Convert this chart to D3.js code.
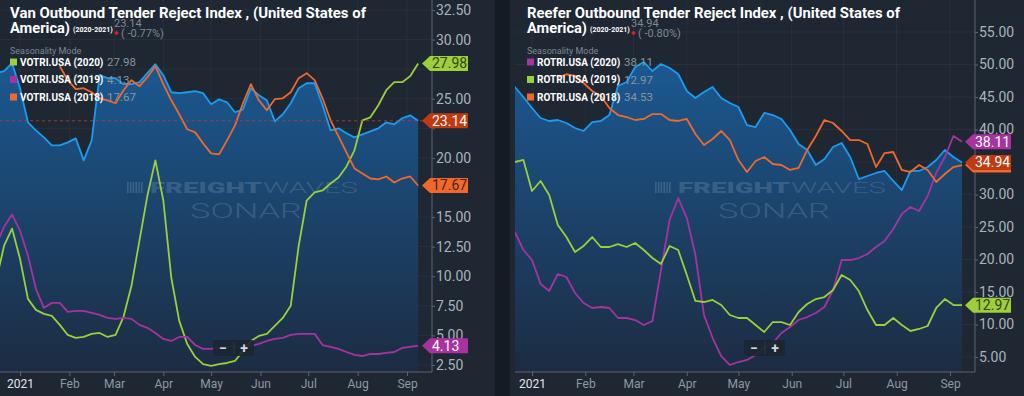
<!DOCTYPE html>
<html>
<head>
<meta charset="utf-8">
<script src="https://cdn.jsdelivr.net/npm/d3@7"></script>
<style>
html, body { margin: 0; padding: 0; background: #1e2732; }
svg { display: block; font-family: Roboto, "Noto Sans", sans-serif; }
</style>
</head>
<body>
<svg id="gfx" width="1024" height="396"></svg>
<script>
// Shared date grid: one reading every 5 days from Dec 17 2020
const startDay = "2020-12-17";
const stepDays = 5;

const monthTicks = ["2021-01-01", "2021-02-01", "2021-03-01", "2021-04-01", "2021-05-01",
                    "2021-06-01", "2021-07-01", "2021-08-01", "2021-09-01"];
const monthLabels = ["2021", "Feb", "Mar", "Apr", "May", "Jun", "Jul", "Aug", "Sep"];

const vanTicks = [2.5, 5, 7.5, 10, 12.5, 15, 17.5, 20, 22.5, 25, 27.5, 30, 32.5];
const reeferTicks = [5, 10, 15, 20, 25, 30, 35, 40, 45, 50, 55];

// VOTRI.USA
const van2021 = [27.16, 27.33, 28.01, 25.89, 23.01, 22.33, 21.74, 21.06, 21.06, 21.31,
                 21.65, 19.79, 21.48, 26.99, 26.74, 26.74, 26.23, 26.23, 26.40, 27.16,
                 27.92, 26.99, 25.55, 25.47, 25.55, 25.64, 25.47, 24.53, 24.96, 24.70,
                 23.86, 24.11, 25.89, 25.30, 24.87, 23.09, 23.69, 24.62, 25.89, 26.31,
                 26.31, 24.45, 22.33, 22.50, 22.08, 21.74, 21.99, 22.25, 22.50, 23.01,
                 22.84, 23.35, 23.60, 23.14];
const van2020 = [9.62, 12.58, 14.03, 11.48, 8.09, 7.16, 6.82, 6.65, 5.89, 5.04,
                 4.79, 4.87, 5.13, 5.21, 4.87, 5.04, 6.57, 9.19, 13.01, 16.82,
                 19.79, 16.40, 9.87, 6.23, 4.28, 3.18, 2.58, 2.42, 2.58, 2.67,
                 2.84, 3.69, 4.53, 4.96, 5.13, 5.81, 6.48, 7.50, 12.58, 16.40,
                 17.08, 17.25, 17.84, 18.35, 19.28, 20.64, 23.18, 23.43, 24.45, 25.72,
                 26.40, 26.40, 26.91, 27.98];
const van2019 = [12.58, 14.19, 15.21, 13.86, 11.74, 8.94, 7.33, 7.75, 7.75, 6.99,
                 7.08, 7.08, 6.91, 6.74, 6.48, 6.40, 6.48, 6.40, 5.89, 5.64,
                 5.21, 4.70, 4.53, 4.87, 4.87, 4.19, 3.86, 3.86, 3.94, 4.03,
                 4.03, 4.03, 4.11, 4.28, 4.53, 4.70, 4.79, 5.04, 5.13, 5.13,
                 5.13, 4.19, 4.03, 3.86, 3.60, 3.35, 3.26, 3.43, 3.43, 3.52,
                 3.60, 3.94, 4.03, 4.13];
const van2018 = [null, null, null, null, null, null, null, null, 27.75, 26.57,
                 25.81, 25.89, 25.55, 25.04, 24.87, 24.62, 25.72, 26.57, 26.06, 26.82,
                 27.75, 26.23, 24.87, 23.69, 22.42, 22.16, 21.23, 20.38, 20.30, 21.48,
                 22.75, 24.62, 26.23, 24.87, 24.03, 24.96, 25.04, 25.55, 26.74, 27.16,
                 26.57, 25.04, 23.18, 21.82, 20.47, 19.11, 18.69, 18.26, 18.18, 18.43,
                 17.92, 18.26, 18.43, 17.67];

// ROTRI.USA
const reefer2021 = [46.69, 46.54, 45.00, 43.31, 41.77, 41.31, 41.46, 41.00, 40.23, 39.77,
                    41.15, 41.31, 42.23, 46.69, 47.31, 49.62, 50.38, 49.00, 50.08, 49.46,
                    48.54, 45.92, 44.85, 45.77, 46.54, 44.85, 44.08, 43.46, 40.69, 40.38,
                    42.54, 42.23, 41.62, 39.92, 37.77, 36.85, 34.54, 35.46, 37.31, 37.92,
                    35.77, 32.38, 32.85, 33.31, 33.62, 32.08, 30.69, 33.62, 33.62, 34.23,
                    35.31, 36.85, 35.77, 34.94];
const reefer2020 = [24.54, 24.23, 21.46, 19.92, 16.23, 15.15, 17.77, 17.31, 14.85, 13.31,
                    12.54, 12.69, 12.54, 11.00, 11.00, 10.69, 9.92, 10.54, 18.38, 26.08,
                    29.46, 26.38, 20.69, 11.46, 7.92, 5.15, 3.77, 4.23, 4.54, 5.31,
                    6.38, 7.15, 8.69, 9.62, 10.69, 11.15, 11.77, 12.69, 15.31, 19.92,
                    19.92, 20.23, 20.85, 21.92, 22.85, 24.69, 27.00, 28.08, 27.46, 29.77,
                    33.31, 35.77, 39.00, 38.11];
const reefer2019 = [35.00, 35.00, 35.31, 30.54, 32.08, 29.92, 25.31, 23.46, 21.15, 22.08,
                    23.46, 21.92, 21.92, 22.38, 21.92, 22.54, 21.46, 20.23, 19.31, 22.08,
                    21.46, 17.62, 13.62, 13.46, 13.77, 13.00, 11.46, 11.00, 11.00, 9.92,
                    8.85, 10.38, 10.38, 9.92, 11.92, 13.15, 13.92, 14.23, 15.31, 17.62,
                    16.85, 15.15, 12.23, 9.92, 9.92, 11.00, 9.92, 9.00, 9.31, 9.77,
                    12.54, 13.92, 13.00, 12.97];
const reefer2018 = [null, null, null, null, null, null, 48.00, 48.50, 48.23, 47.15,
                    45.92, 45.15, 43.31, 42.23, 41.92, 41.46, 41.62, 42.38, 42.38, 41.46,
                    41.31, 41.62, 39.31, 37.62, 38.54, 39.77, 38.38, 35.31, 33.46, 35.15,
                    35.77, 34.69, 34.54, 33.77, 34.08, 36.85, 39.00, 41.46, 41.00, 39.77,
                    38.38, 38.38, 37.77, 34.23, 36.38, 36.54, 33.77, 33.46, 34.54, 33.77,
                    31.92, 33.15, 34.23, 34.53];

const green = "#9ccf3a", purple = "#a8329f", orange = "#f0692a", blue = "#1b9cf2";

const parseDay = d3.utcParse("%Y-%m-%d");
const dates = van2021.map((v, i) => d3.utcDay.offset(parseDay(startDay), i * stepDays));
const fmt = d3.format(".2f");

const svg = d3.select("#gfx");
const defs = svg.append("defs");

// Area gradient for the current-year series
const grad = defs.append("linearGradient").attr("id", "areaGrad")
    .attr("gradientUnits", "userSpaceOnUse").attr("x1", 0).attr("x2", 0).attr("y1", 40).attr("y2", 372);
grad.append("stop").attr("offset", 0).attr("stop-color", "#1b5c97");
grad.append("stop").attr("offset", 1).attr("stop-color", "#1c2c42");

// Dark gutter between the two charts
svg.append("rect").attr("x", 495).attr("y", 0).attr("width", 15).attr("height", 396).attr("fill", "#151b23");

const panels = [
    {
        id: "van", left: 0, right: 432, xRange: [20, 407], yDomain: [2.5, 32.5], yRange: [365, 10],
        ticks: vanTicks, titleX: 10, titleWidth: 356, wmX: 245, refLine: true,
        title: "Van Outbound Tender Reject Index , (United States of",
        change: "( -0.77%)", zoomX: 213,
        current: van2021,
        series: [
            { name: "VOTRI.USA (2020)", values: van2020, color: green, text: "#34431a" },
            { name: "VOTRI.USA (2019)", values: van2019, color: purple, text: "#ffffff" },
            { name: "VOTRI.USA (2018)", values: van2018, color: orange, text: "#4a2312" }
        ]
    },
    {
        id: "reefer", left: 515, right: 975, xRange: [532, 950], yDomain: [5, 55], yRange: [357, 32],
        ticks: reeferTicks, titleX: 527, titleWidth: 373, wmX: 773, refLine: false,
        title: "Reefer Outbound Tender Reject Index , (United States of",
        change: "( -0.80%)", zoomX: 744,
        current: reefer2021,
        series: [
            { name: "ROTRI.USA (2020)", values: reefer2020, color: purple, text: "#ffffff" },
            { name: "ROTRI.USA (2019)", values: reefer2019, color: green, text: "#34431a" },
            { name: "ROTRI.USA (2018)", values: reefer2018, color: orange, text: "#4a2312" }
        ]
    }
];

const plotBottom = 372;

panels.forEach(p => {
    const x = d3.scaleUtc().domain([parseDay(monthTicks[0]), parseDay(monthTicks[8])]).range(p.xRange);
    const y = d3.scaleLinear().domain(p.yDomain).range(p.yRange);
    const g = svg.append("g").attr("class", p.id);
    const last = p.current[p.current.length - 1];

    defs.append("clipPath").attr("id", "clip-" + p.id)
        .append("rect").attr("x", p.left).attr("y", 0)
        .attr("width", p.right - p.left).attr("height", plotBottom);

    // Grid
    const grid = g.append("g").attr("stroke", "#ffffff").attr("stroke-opacity", 0.045);
    grid.selectAll("line.h").data(p.ticks).enter().append("line")
        .attr("x1", p.left).attr("x2", p.right).attr("y1", d => y(d)).attr("y2", d => y(d));
    grid.selectAll("line.v").data(monthTicks).enter().append("line")
        .attr("x1", d => x(parseDay(d))).attr("x2", d => x(parseDay(d))).attr("y1", 0).attr("y2", plotBottom);

    const toPoints = vals => vals.map((v, i) => ({ date: dates[i], v: v }));
    const plot = g.append("g").attr("clip-path", "url(#clip-" + p.id + ")");

    // Current year: filled area + line
    const cur = toPoints(p.current);
    plot.append("path").datum(cur).attr("fill", "url(#areaGrad)")
        .attr("d", d3.area().x(d => x(d.date)).y0(plotBottom).y1(d => y(d.v)));

    // Watermark
    const wm = plot.append("g").attr("fill", "#9db6d0").attr("fill-opacity", 0.24);
    wm.selectAll("rect").data(d3.range(6)).enter().append("rect")
        .attr("x", i => p.wmX - 118 + i * 2.8).attr("y", 182).attr("width", 1.6).attr("height", 11);
    wm.append("text").attr("x", p.wmX - 95).attr("y", 193).attr("font-size", 15.5).attr("font-weight", 900)
        .attr("textLength", 112).attr("lengthAdjust", "spacingAndGlyphs").text("FREIGHT");
    wm.append("text").attr("x", p.wmX + 18).attr("y", 193).attr("font-size", 15.5).attr("font-weight", 300)
        .attr("textLength", 95).attr("lengthAdjust", "spacingAndGlyphs").text("WAVES");
    wm.append("text").attr("x", p.wmX - 55).attr("y", 218).attr("font-size", 21).attr("font-weight", 300)
        .attr("textLength", 112).attr("lengthAdjust", "spacingAndGlyphs").text("SONAR");

    const line = d3.line().defined(d => d.v != null).x(d => x(d.date)).y(d => y(d.v));
    plot.append("path").datum(cur).attr("fill", "none").attr("stroke", blue)
        .attr("stroke-width", 1.8).attr("stroke-linejoin", "round").attr("d", line);

    p.series.forEach(s => {
        plot.append("path").datum(toPoints(s.values)).attr("fill", "none").attr("stroke", s.color)
            .attr("stroke-width", 1.8).attr("stroke-linejoin", "round").attr("d", line);
    });

    if (p.refLine) {
        g.append("line").attr("x1", p.left).attr("x2", p.right).attr("y1", y(last)).attr("y2", y(last))
            .attr("stroke", "#c0392b").attr("stroke-opacity", 0.8).attr("stroke-dasharray", "3,3");
    }

    // Value tags on the right axis (last reading of each series)
    const tags = p.series.map(s => ({ v: s.values[s.values.length - 1], color: s.color, text: s.text }))
        .concat([{ v: last, color: "#c1390f", text: "#ffffff" }]);

    // Axes
    g.append("line").attr("x1", p.left).attr("x2", p.right).attr("y1", plotBottom).attr("y2", plotBottom)
        .attr("stroke", "#5b6570");
    g.append("line").attr("x1", p.right).attr("x2", p.right).attr("y1", 0).attr("y2", plotBottom)
        .attr("stroke", "#5b6570");

    // tick labels that sit under a tag are covered in the original
    const hidden = t => tags.some(tg => Math.abs(y(tg.v) - y(t)) < 9);
    const yAxis = g.append("g").attr("transform", "translate(" + p.right + ",0)")
        .call(d3.axisRight(y).tickValues(p.ticks).tickFormat(d => hidden(d) ? "" : fmt(d))
            .tickSize(3).tickPadding(1));
    yAxis.select(".domain").remove();
    yAxis.selectAll("line").attr("stroke", "#5b6570");
    yAxis.selectAll("text").attr("fill", "#aab3bc").attr("font-size", 14).attr("font-family", "Roboto");

    const xAxis = g.append("g").attr("transform", "translate(0," + plotBottom + ")")
        .call(d3.axisBottom(x).tickValues(monthTicks.map(parseDay))
            .tickFormat((d, i) => monthLabels[i]).tickSize(4).tickPadding(3));
    xAxis.select(".domain").remove();
    xAxis.selectAll("line").attr("stroke", "#5b6570");
    xAxis.selectAll("text").attr("fill", (d, i) => i === 0 ? "#e2e6ea" : "#8f99a3")
        .attr("font-size", 12).attr("font-family", "Roboto");

    const tip = p.right - 10, tagEnd = p.right + 36;
    const tg = g.selectAll("g.tag").data(tags).enter().append("g").attr("class", "tag")
        .attr("transform", d => "translate(0," + y(d.v) + ")");
    tg.append("path").attr("fill", d => d.color)
        .attr("d", "M" + tip + ",0L" + (tip + 8) + ",-7.5L" + tagEnd + ",-7.5L" + tagEnd + ",7.5L" + (tip + 8) + ",7.5Z");
    // a tag almost fully covered by a later one shows no text
    tg.filter((d, i) => !tags.slice(i + 1).some(o => Math.abs(y(o.v) - y(d.v)) < 8))
        .append("text").attr("x", tip + 10).attr("y", 5).attr("font-size", 14).attr("fill", d => d.text)
        .text(d => fmt(d.v));

    // Title block
    const t = g.append("g").attr("fill", "#ffffff");
    t.append("text").attr("x", p.titleX).attr("y", 18).attr("font-size", 15.5).attr("font-weight", 700)
        .attr("textLength", p.titleWidth).attr("lengthAdjust", "spacingAndGlyphs").text(p.title);
    t.append("text").attr("x", p.titleX).attr("y", 32.5).attr("font-size", 15.5).attr("font-weight", 700)
        .attr("textLength", 60).attr("lengthAdjust", "spacingAndGlyphs").text("America)");
    t.append("text").attr("x", p.titleX + 63).attr("y", 32).attr("font-size", 7).attr("font-weight", 700)
        .text("(2020-2021)");
    g.append("text").attr("x", p.titleX + 104).attr("y", 27).attr("font-size", 11).attr("fill", "#7f8993")
        .text(fmt(last));
    g.append("path").attr("fill", "#e3201b")
        .attr("d", "M" + (p.titleX + 106.5) + ",30.5l2.2,2.5l-2.2,2.5l-2.2,-2.5Z");
    g.append("text").attr("x", p.titleX + 111).attr("y", 36.5).attr("font-size", 11).attr("fill", "#7f8993")
        .text(p.change);

    // Legend
    g.append("text").attr("x", p.titleX).attr("y", 54).attr("font-size", 9).attr("fill", "#7e8892")
        .text("Seasonality Mode");
    const lg = g.selectAll("g.legend").data(p.series).enter().append("g").attr("class", "legend")
        .attr("transform", (d, i) => "translate(" + p.titleX + "," + (62 + i * 17.5) + ")");
    lg.append("rect").attr("x", 0).attr("y", -3.5).attr("width", 7).attr("height", 7).attr("fill", d => d.color);
    lg.append("text").attr("x", 10).attr("y", 3.6).attr("font-size", 10).attr("font-weight", 700)
        .attr("fill", "#ffffff").text(d => d.name);
    lg.append("text").attr("x", 97).attr("y", 4).attr("font-size", 11.5).attr("fill", "#8a949e")
        .text(d => fmt(d.values[d.values.length - 1]));

    // Zoom buttons
    const z = g.append("g").attr("transform", "translate(" + p.zoomX + ",340)");
    z.append("rect").attr("width", 41).attr("height", 16).attr("rx", 2).attr("fill", "#1c2631").attr("fill-opacity", 0.9);
    z.append("line").attr("x1", 21).attr("x2", 21).attr("y1", 2).attr("y2", 14).attr("stroke", "#2c3844");
    z.append("text").attr("x", 10).attr("y", 12.5).attr("text-anchor", "middle").attr("font-size", 14)
        .attr("font-weight", 700).attr("fill", "#d3d9df").text("−");
    z.append("text").attr("x", 31).attr("y", 12.5).attr("text-anchor", "middle").attr("font-size", 14)
        .attr("font-weight", 700).attr("fill", "#d3d9df").text("+");
});
</script>
</body>
</html>
